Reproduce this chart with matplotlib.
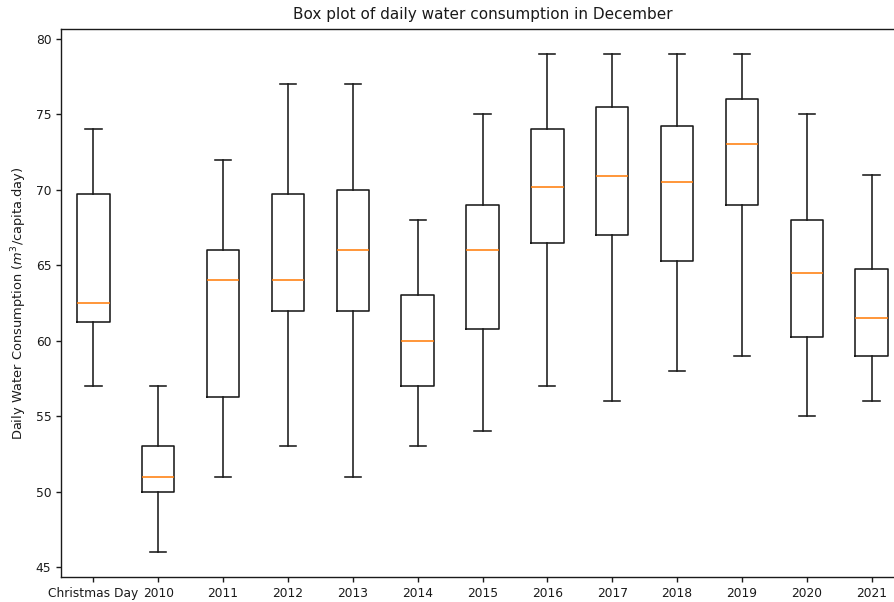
import matplotlib
matplotlib.use("Agg")
import matplotlib.pyplot as plt

# Daily water consumption (m3/capita.day) in December, summarised per group
labels = ["Christmas Day", "2010", "2011", "2012", "2013", "2014", "2015",
          "2016", "2017", "2018", "2019", "2020", "2021"]
whisker_low = [57, 46, 51, 53, 51, 53, 54, 57, 56, 58, 59, 55, 56]
q1 = [61.25, 50, 56.25, 62, 62, 57, 60.75, 66.5, 67, 65.25, 69, 60.25, 59]
median = [62.5, 51, 64, 64, 66, 60, 66, 70.2, 70.9, 70.5, 73, 64.5, 61.5]
q3 = [69.75, 53, 66, 69.75, 70, 63, 69, 74, 75.5, 74.25, 76, 68, 64.75]
whisker_high = [74, 57, 72, 77, 77, 68, 75, 79, 79, 79, 79, 75, 71]

stats = [
    {"label": lab, "whislo": lo, "q1": a, "med": m, "q3": b, "whishi": hi,
     "fliers": []}
    for lab, lo, a, m, b, hi in zip(labels, whisker_low, q1, median, q3,
                                    whisker_high)
]

fig = plt.figure(figsize=(8.94, 6.02), dpi=100)
ax = fig.add_axes([61 / 894, 25 / 602, 843 / 894, 548 / 602])

line = dict(linewidth=1.15, color="#1a1a1a")
ax.bxp(stats, positions=range(1, len(labels) + 1), widths=0.5,
       boxprops=line, whiskerprops=line, capprops=line,
       medianprops=dict(linewidth=1.15, color="#ff7f0e"))

ax.set_xlim(0.5, len(labels) + 0.5)
ax.set_yticks([45, 50, 55, 60, 65, 70, 75, 80])
ax.tick_params(labelsize=8.8, width=1.0, length=3.5, colors="#1a1a1a")
for s in ax.spines.values():
    s.set_linewidth(1.0)
    s.set_color("#1a1a1a")

ax.set_title("Box plot of daily water consumption in December", fontsize=11,
             color="#1a1a1a", pad=7)
ax.set_ylabel("Daily Water Consumption ($m^3$/capita.day)", fontsize=9.4,
              color="#1a1a1a", labelpad=5)

fig.savefig("out.png", dpi=100)
